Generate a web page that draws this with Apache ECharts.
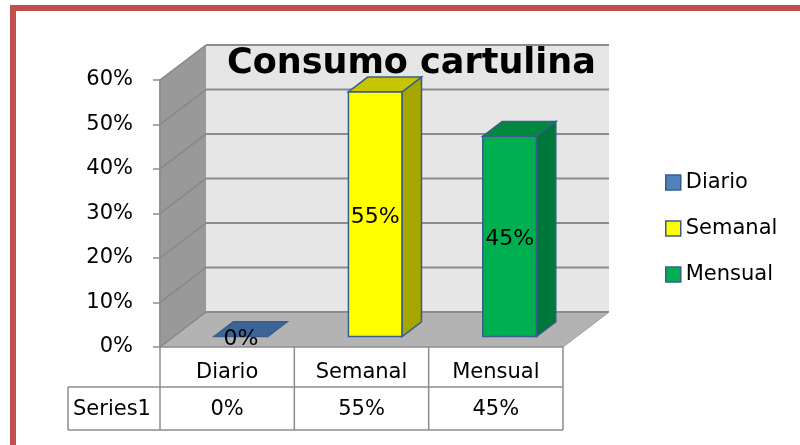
<!DOCTYPE html>
<html><head><meta charset="utf-8">
<script src="https://cdn.jsdelivr.net/npm/echarts@6/dist/echarts.min.js"></script>
<style>html,body{margin:0;padding:0;background:#fff}#c{width:800px;height:445px}</style>
</head><body><div id="c"></div>
<script>
const categories = ['Diario', 'Semanal', 'Mensual'];
const values = [0, 55, 45];
const seriesName = 'Series1';
const yTicks = [0, 10, 20, 30, 40, 50, 60];
const chartTitle = 'Consumo cartulina';

const FONT = 'DejaVu Sans';
const DX = 46, DY = -35;
const frontColors = ['#4f81bd', '#ffff00', '#00b050'];
const sideColors = ['#3a6494', '#a6a600', '#00773a'];
const topColors = ['#3c6496', '#c6c600', '#00893e'];
const EDGE = '#385d8a';
const TABLE_LINE = '#8c8c8c';
const ROW1 = 40, ROW2 = 83, HEAD_W = 92;

function pct(v) { return v + '%'; }

function renderWalls(params, api) {
  const cs = params.coordSys;
  const x = cs.x, y = cs.y, w = cs.width, h = cs.height;
  const yb = y + h;
  const ch = [];
  ch.push({type: 'rect', shape: {x: x + DX, y: y + DY, width: w, height: h}, style: {fill: '#e6e6e6'}});
  ch.push({type: 'polygon', shape: {points: [[x, y], [x + DX, y + DY], [x + DX, yb + DY], [x, yb]]}, style: {fill: '#999999'}});
  ch.push({type: 'polygon', shape: {points: [[x, yb], [x + w, yb], [x + w + DX, yb + DY], [x + DX, yb + DY]]}, style: {fill: '#b3b3b3'}});
  yTicks.forEach(function (t) {
    const py = api.coord([0, t])[1];
    ch.push({type: 'line', shape: {x1: x + DX, y1: py + DY, x2: x + w + DX, y2: py + DY}, style: {stroke: '#8c8c8c', lineWidth: 2}});
    ch.push({type: 'line', shape: {x1: x, y1: py, x2: x + DX, y2: py + DY}, style: {stroke: '#868686', lineWidth: 1.5}});
  });
  ch.push({type: 'line', shape: {x1: x + w, y1: yb, x2: x + w + DX, y2: yb + DY}, style: {stroke: '#9a9a9a', lineWidth: 1}});
  // table frame
  ch.push({type: 'line', shape: {x1: x, y1: yb, x2: x + w, y2: yb}, style: {stroke: TABLE_LINE, lineWidth: 1.5}});
  ch.push({type: 'line', shape: {x1: x - HEAD_W, y1: yb + ROW1, x2: x + w, y2: yb + ROW1}, style: {stroke: TABLE_LINE, lineWidth: 1.5}});
  ch.push({type: 'line', shape: {x1: x - HEAD_W, y1: yb + ROW2, x2: x + w, y2: yb + ROW2}, style: {stroke: TABLE_LINE, lineWidth: 1.5}});
  ch.push({type: 'line', shape: {x1: x, y1: y, x2: x, y2: yb + ROW2}, style: {stroke: TABLE_LINE, lineWidth: 1.5}});
  ch.push({type: 'line', shape: {x1: x - HEAD_W, y1: yb + ROW1, x2: x - HEAD_W, y2: yb + ROW2}, style: {stroke: TABLE_LINE, lineWidth: 1.5}});
  ch.push({type: 'text', style: {text: seriesName, x: x - HEAD_W / 2 - 2, y: yb + (ROW1 + ROW2) / 2 + 1, align: 'center', verticalAlign: 'middle', fontFamily: FONT, fontSize: 21, fill: '#000'}});
  return {type: 'group', children: ch};
}

function renderBar(params, api) {
  const i = api.value(0), v = api.value(1);
  const base = api.coord([i, 0]);
  const topPt = api.coord([i, v]);
  const band = api.size([1, 0])[0];
  const w = band * 0.4;
  const ox = DX * 0.3, oy = DY * 0.3;
  const dx = DX * 0.42, dy = DY * 0.42;
  const x0 = base[0] - w / 2 + ox, x1 = x0 + w;
  const yb = base[1] + oy, yt = topPt[1] + oy;
  const ch = [];
  if (yb - yt > 0.5) {
    ch.push({type: 'rect', shape: {x: x0, y: yt, width: w, height: yb - yt}, style: {fill: frontColors[i], stroke: EDGE, lineWidth: 1.5}});
    ch.push({type: 'polygon', shape: {points: [[x1, yb], [x1, yt], [x1 + dx, yt + dy], [x1 + dx, yb + dy]]}, style: {fill: sideColors[i], stroke: EDGE, lineWidth: 1.5}});
  }
  ch.push({type: 'polygon', shape: {points: [[x0, yt], [x1, yt], [x1 + dx, yt + dy], [x0 + dx, yt + dy]]}, style: {fill: topColors[i], stroke: EDGE, lineWidth: 1.5}});
  ch.push({type: 'text', style: {text: pct(v), x: x0 + w / 2, y: (yt + yb) / 2 + 3, align: 'center', verticalAlign: 'middle', fontFamily: FONT, fontSize: 22, fill: '#000'}});
  // table column
  const gy = base[1];
  const right = base[0] + band / 2;
  ch.push({type: 'line', shape: {x1: right, y1: gy, x2: right, y2: gy + ROW2}, style: {stroke: TABLE_LINE, lineWidth: 1.5}});
  ch.push({type: 'text', style: {text: pct(v), x: base[0], y: gy + (ROW1 + ROW2) / 2 + 1, align: 'center', verticalAlign: 'middle', fontFamily: FONT, fontSize: 21, fill: '#000'}});
  return {type: 'group', children: ch};
}

const chart = echarts.init(document.getElementById('c'), null, {renderer: 'canvas'});

const barSeries = categories.map(function (c, i) {
  return {
    type: 'custom', name: c, renderItem: renderBar, z: 5,
    itemStyle: {color: frontColors[i], borderColor: EDGE, borderWidth: 1.5},
    encode: {x: 0, y: 1},
    data: [[i, values[i]]]
  };
});

chart.setOption({
  animation: false,
  backgroundColor: '#ffffff',
  title: {
    text: chartTitle, left: 227, top: 46, padding: 0,
    textStyle: {fontFamily: FONT, fontWeight: 'bold', fontSize: 35, color: '#000'}
  },
  legend: {
    data: categories, orient: 'vertical', left: 665, top: 172, padding: 0,
    icon: 'rect', itemWidth: 15, itemHeight: 15, itemGap: 25, itemTextGap: 6,
    itemStyle: {borderColor: EDGE, borderWidth: 1.5},
    textStyle: {fontFamily: FONT, fontSize: 21, color: '#000'}
  },
  grid: {left: 160, top: 80, width: 403, height: 267},
  xAxis: {
    type: 'category', data: categories,
    axisLine: {show: false}, axisTick: {show: false}, splitLine: {show: false},
    axisLabel: {fontFamily: FONT, fontSize: 21, color: '#000', margin: 15}
  },
  yAxis: {
    type: 'value', min: yTicks[0], max: yTicks[yTicks.length - 1], interval: yTicks[1] - yTicks[0],
    axisLine: {show: true, lineStyle: {color: '#8c8c8c', width: 1.5}},
    axisTick: {show: true, length: 7, lineStyle: {color: '#8c8c8c', width: 1.5}},
    splitLine: {show: false},
    axisLabel: {formatter: pct, fontFamily: FONT, fontSize: 21, color: '#000', margin: 27}
  },
  series: [{
    type: 'custom', name: 'walls', renderItem: renderWalls, z: 1, silent: true,
    encode: {x: 0, y: 1}, data: [[0, 0]]
  }].concat(barSeries),
  graphic: [{
    type: 'rect', z: 100, silent: true,
    shape: {x: 13, y: 8, width: 830, height: 470},
    style: {fill: 'none', stroke: '#c0504d', lineWidth: 6}
  }]
});
</script>
</body></html>
